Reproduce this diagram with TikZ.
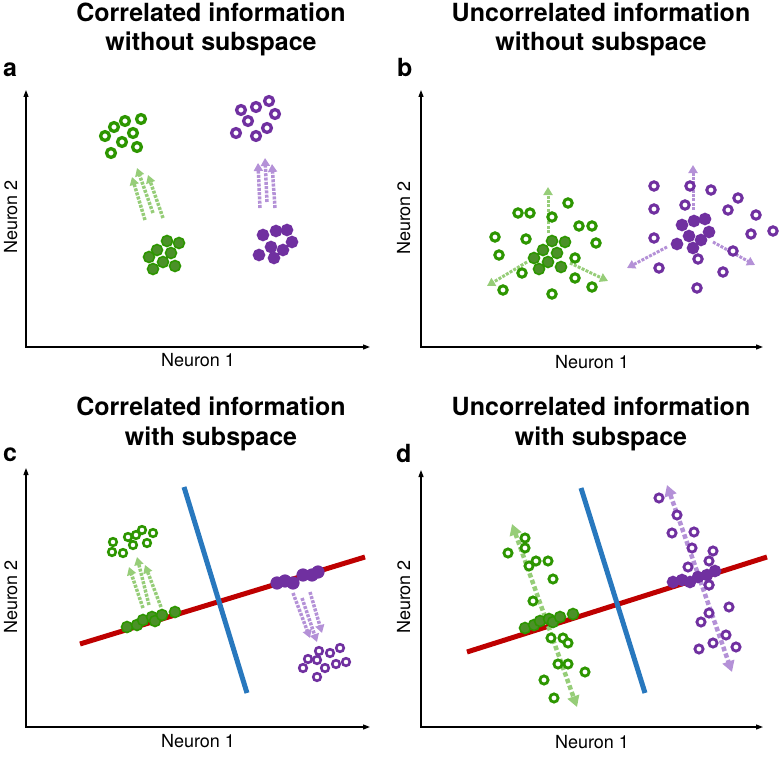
\documentclass[tikz,border=0pt]{standalone}
\usepackage{fontspec}
\setmainfont{TeX Gyre Heros}
\usetikzlibrary{arrows.meta}
\definecolor{grn}{RGB}{45,150,0}
\definecolor{grnfill}{RGB}{75,145,40}
\definecolor{grnlight}{RGB}{150,205,120}
\definecolor{prp}{RGB}{112,48,160}
\definecolor{prplight}{RGB}{180,145,215}
\definecolor{subred}{RGB}{190,0,0}
\definecolor{subblue}{RGB}{40,120,190}

\begin{document}
\begin{tikzpicture}[
  x=1pt, y=-1pt,
  title/.style={font=\fontsize{25}{30}\selectfont\bfseries, anchor=base, inner sep=0pt},
  letter/.style={font=\fontsize{25}{30}\selectfont\bfseries, anchor=base west, inner sep=0pt},
  axlabel/.style={font=\fontsize{18}{22}\selectfont, anchor=base, inner sep=0pt},
  axis/.style={line width=1.2pt, line join=miter,
    {Triangle[length=7pt,width=5pt]}-{Triangle[length=7pt,width=5pt]}},
  ring/.style={draw=#1, line width=3pt, fill=white},
  dot/.style={draw=#1, line width=1.6pt, fill=#1fill},
  flow/.style={draw=#1, line width=3.5pt, dash pattern=on 3pt off 1.3pt,
    -{Triangle[length=8pt,width=9pt]}},
  bigflow/.style={draw=#1, line width=4.5pt, dash pattern=on 4.5pt off 2.5pt,
    {Triangle[length=11pt,width=12pt]}-{Triangle[length=11pt,width=12pt]}},
  subline/.style={draw=#1, line width=5pt}
]
\useasboundingbox (0,0) rectangle (779,757);
\colorlet{prpfill}{prp}

% titles and panel letters
\node[title] (ta1) at (211,22) {Correlated information};
\node[title] (ta2) at (211,51) {without subspace};
\node[title] (tb1) at (601,22) {Uncorrelated information};
\node[title] (tb2) at (601,51) {without subspace};
\node[title] (tc1) at (211,415) {Correlated information};
\node[title] (tc2) at (211,445) {with subspace};
\node[title] (td1) at (601,415) {Uncorrelated information};
\node[title] (td2) at (601,445) {with subspace};
\node[letter] (la) at (3,77) {a};
\node[letter] (lb) at (397,77) {b};
\node[letter] (lc) at (3,461) {c};
\node[letter] (ld) at (396,462) {d};

% axes
\draw[axis] (26,90) -- (26,347) -- (370,347);
\draw[axis] (421,90) -- (421,347) -- (763,347);
\draw[axis] (26,468) -- (26,727) -- (370,727);
\draw[axis] (421,470) -- (421,727) -- (763,727);
\node[axlabel] (xa) at (198,366) {Neuron 1};
\node[axlabel] (xb) at (592,368) {Neuron 1};
\node[axlabel] (xc) at (198,747) {Neuron 1};
\node[axlabel] (xd) at (592,748) {Neuron 1};
\node[axlabel, rotate=90] (ya) at (17,217) {Neuron 2};
\node[axlabel, rotate=90] (yb) at (410,218) {Neuron 2};
\node[axlabel, rotate=90] (yc) at (17,597) {Neuron 2};
\node[axlabel, rotate=90] (yd) at (410,597) {Neuron 2};

% panel a
\draw[flow=grnlight] (145,220) -- (132,177);
\draw[flow=grnlight] (153,213) -- (137,168);
\draw[flow=grnlight] (163,218) -- (148,175);
\draw[flow=prplight] (260,208) -- (258,163);
\draw[flow=prplight] (267,202) -- (265,158);
\draw[flow=prplight] (275,208) -- (272,164);
\foreach \p in {(105,136),(114,127),(125,121),(141,119),(133,133),(122,142),(111,153),(137,147)}
  \draw[ring=grn, line width=3.3pt] \p circle (4.4pt);
\foreach \p in {(167,241),(179,243),(157,250),(171,253),(149,257),(163,262),(153,269),(175,266)}
  \draw[dot=grn] \p circle (5.5pt);
\foreach \p in {(241,110),(256,107),(269,101),(275,114),(248,121),(236,133),(267,128),(256,136)}
  \draw[ring=prp, line width=3.3pt] \p circle (4.4pt);
\foreach \p in {(263,235),(276,231),(287,230),(292,242),(271,247),(283,250),(259,255),(274,258)}
  \draw[dot=prp] \p circle (5.5pt);

% panel b
\draw[flow=grnlight, line width=3pt] (548,233) -- (548,187);
\draw[flow=grnlight, line width=3pt] (527,262) -- (487,286);
\draw[flow=grnlight, line width=3pt] (570,263) -- (608,281);
\draw[flow=prplight, line width=3pt] (693,210) -- (693,165);
\draw[flow=prplight, line width=3pt] (667,247) -- (627,268);
\draw[flow=prplight, line width=3pt] (713,242) -- (755,265);
\foreach \p in {(568,203),(518,213),(530,213),(552,217),(579,226),(592,226),(495,237),(526,239),
                (596,243),(499,255),(575,258),(522,273),(575,278),(592,287),(503,290),(552,294)}
  \draw[ring=grn] \p circle (4.2pt);
\foreach \p in {(552,241),(565,242),(543,250),(557,253),(534,258),(548,262),(539,269),(561,267)}
  \draw[dot=grn] \p circle (5.5pt);
\foreach \p in {(654,186),(690,186),(711,190),(738,198),(654,209),(685,205),(728,210),(756,215),
                (654,238),(751,234),(773,231),(733,251),(698,259),(659,268),(723,272),(697,288)}
  \draw[ring=prp] \p circle (4.2pt);
\foreach \p in {(682,225),(694,221),(705,219),(709,232),(689,236),(701,240),(677,244),(693,248)}
  \draw[dot=prp] \p circle (5.5pt);

% panel c
\draw[subline=subred] (80,644) -- (365,557);
\draw[subline=subblue] (184,487) -- (247,693);
\draw[flow=grnlight] (143,608) -- (129,567);
\draw[flow=grnlight] (149,605) -- (137,557);
\draw[flow=grnlight] (161,607) -- (145,565);
\draw[flow=prplight] (293,593) -- (310,638);
\draw[flow=prplight] (302,598) -- (317,642);
\draw[flow=prplight] (310,592) -- (322,633);
\foreach \p in {(113,542),(112,552),(123,553),(128,537),(133,545),(136,535),(142,530),(147,543),(153,533)}
  \draw[ring=grn, line width=2.6pt] \p circle (3.8pt);
\foreach \p in {(127,627),(137,625),(143,620),(152,617),(155,621),(162,615),(175,612)}
  \draw[dot=grn] \p circle (5.5pt);
\foreach \p in {(277,583),(285,581),(293,583),(303,575),(312,575),(318,572)}
  \draw[dot=prp] \p circle (5.8pt);
\foreach \p in {(308,659),(319,651),(330,653),(340,648),(317,660),(325,668),(336,664),(346,662),(303,668),(317,677)}
  \draw[ring=prp, line width=2.6pt] \p circle (3.8pt);

% panel d
\draw[subline=subred] (467,652) -- (767,557);
\draw[subline=subblue] (581,488) -- (645,693);
\draw[bigflow=grnlight] (512,524) -- (577,707);
\draw[bigflow=prplight] (667,485) -- (732,672);
\foreach \p in {(525,538),(525,548),(508,553),(536,561),(529,566),(548,561),(553,579),(533,601),
                (551,638),(563,638),(568,643),(558,664),(568,664),(585,672),(544,680),(554,698)}
  \draw[ring=grn, line width=2.8pt] \p circle (4.1pt);
\foreach \p in {(525,628),(534,625),(540,621),(549,619),(553,622),(560,617),(573,614)}
  \draw[dot=grn] \p circle (5.5pt);
\foreach \p in {(659,498),(677,515),(672,533),(694,532),(692,548),(713,551),(709,561),(688,567),
                (709,585),(729,607),(709,613),(701,622),(726,635),(713,643),(736,647),(699,649)}
  \draw[ring=prp, line width=2.8pt] \p circle (4.1pt);
\foreach \p in {(673,582),(682,580),(690,582),(698,577),(707,575),(715,571)}
  \draw[dot=prp] \p circle (5.5pt);
\draw[ring=prp, line width=2.8pt] (709,585) circle (4.1pt);
\end{tikzpicture}
\end{document}
